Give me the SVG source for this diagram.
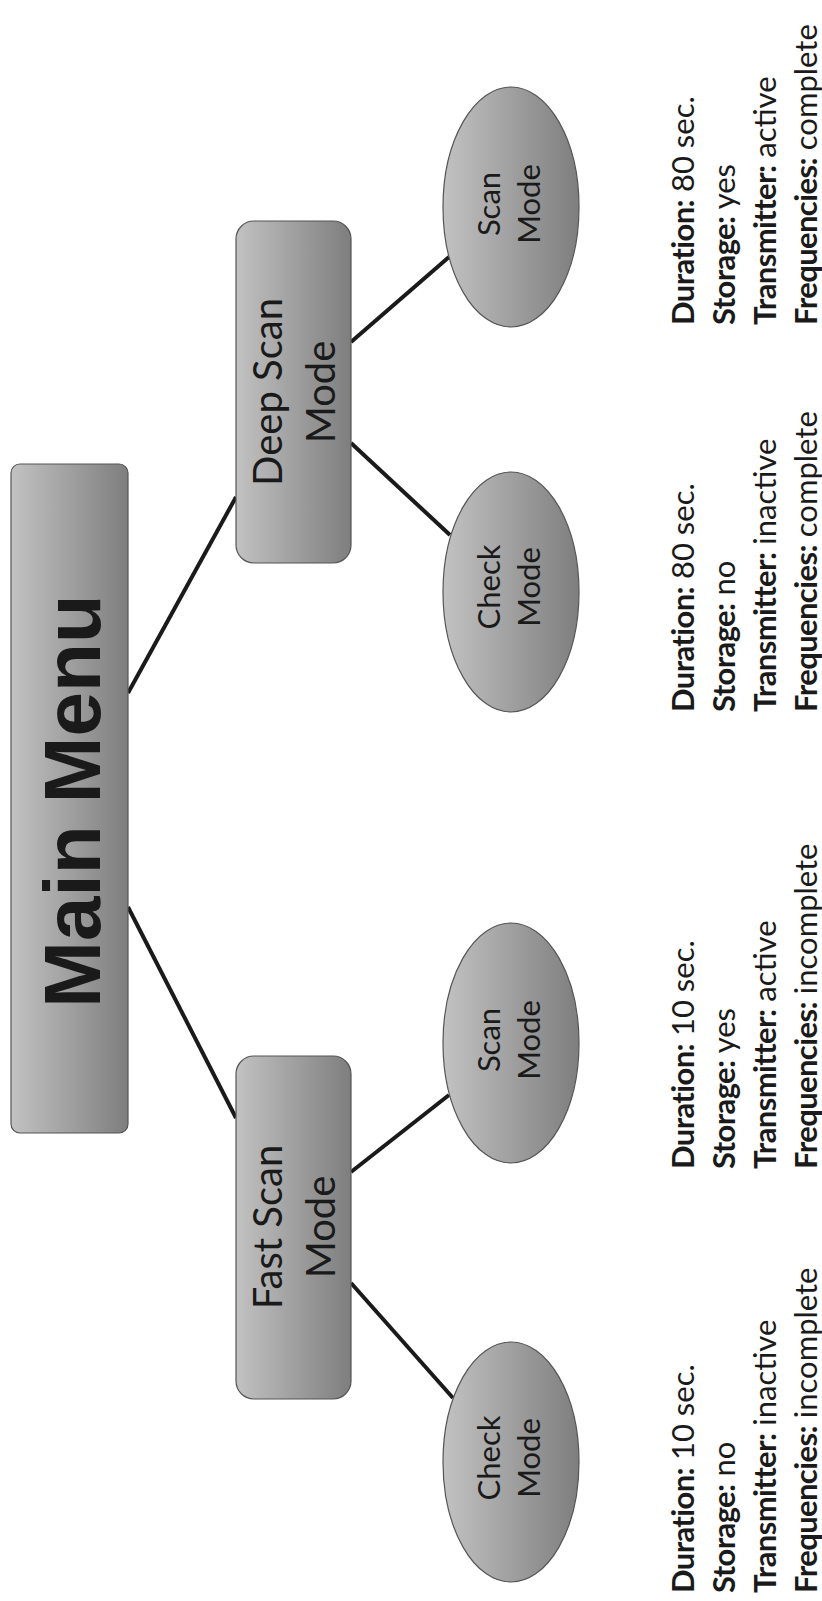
<svg xmlns="http://www.w3.org/2000/svg" width="822" height="1601" viewBox="0 0 822 1601">
<defs>
<linearGradient id="g" x1="0" y1="0" x2="1" y2="0">
<stop offset="0" stop-color="#c2c2c2"/>
<stop offset="1" stop-color="#7e7e7e"/>
</linearGradient>
<style>
.box{fill:url(#g);stroke:#555;stroke-width:1.2}
.lbl{font-family:Lato,"Open Sans",sans-serif;fill:#1a1a1a;text-anchor:middle}
.info{font-family:Lato,"Open Sans",sans-serif;font-size:31px;fill:#1a1a1a}
.info .b{font-weight:bold;letter-spacing:-0.6px}
.con line{stroke:#1a1a1a;stroke-width:4}
</style>
</defs>
<rect width="822" height="1601" fill="#fff"/>
<g class="con" id="connectors">
<line x1="128" y1="693" x2="236" y2="497"/>
<line x1="128" y1="907" x2="236" y2="1118"/>
<line x1="351" y1="342" x2="449" y2="257"/>
<line x1="351" y1="443" x2="450" y2="535"/>
<line x1="351" y1="1172" x2="449" y2="1095"/>
<line x1="351" y1="1283" x2="453" y2="1398"/>
</g>
<g id="main-menu">
<rect class="box" x="11" y="464" width="117" height="669" rx="9"/>
<text transform="translate(100,801) rotate(-90)" style="font-family:'Liberation Sans',Arial,sans-serif;font-weight:bold;font-size:80px;fill:#1a1a1a;text-anchor:middle">Main Menu</text>
</g>
<g id="deep-scan">
<rect class="box" x="236" y="221" width="115" height="342" rx="18"/>
<text class="lbl" font-size="40" transform="translate(0,392) rotate(-90)"><tspan x="0" y="282">Deep Scan</tspan><tspan x="0" y="335">Mode</tspan></text>
</g>
<g id="fast-scan">
<rect class="box" x="236" y="1056" width="115" height="343" rx="18"/>
<text class="lbl" font-size="40" transform="translate(0,1227) rotate(-90)"><tspan x="0" y="282">Fast Scan</tspan><tspan x="0" y="335">Mode</tspan></text>
</g>
<g id="deep-scan-mode">
<ellipse class="box" cx="511" cy="207" rx="68" ry="120"/>
<text class="lbl" font-size="31" transform="translate(0,204) rotate(-90)"><tspan x="0" y="500">Scan</tspan><tspan x="0" y="540">Mode</tspan></text>
</g>
<g id="deep-check-mode">
<ellipse class="box" cx="511" cy="592" rx="68" ry="120"/>
<text class="lbl" font-size="31" transform="translate(0,587) rotate(-90)"><tspan x="0" y="500">Check</tspan><tspan x="0" y="540">Mode</tspan></text>
</g>
<g id="fast-scan-mode">
<ellipse class="box" cx="511" cy="1043" rx="68" ry="120"/>
<text class="lbl" font-size="31" transform="translate(0,1040) rotate(-90)"><tspan x="0" y="500">Scan</tspan><tspan x="0" y="540">Mode</tspan></text>
</g>
<g id="fast-check-mode">
<ellipse class="box" cx="511" cy="1462" rx="68" ry="120"/>
<text class="lbl" font-size="31" transform="translate(0,1458) rotate(-90)"><tspan x="0" y="500">Check</tspan><tspan x="0" y="540">Mode</tspan></text>
</g>
<g id="info-fast-check">
<text class="info" transform="translate(0,1593) rotate(-90)"><tspan x="0" y="694"><tspan class="b">Duration:</tspan> 10 sec.</tspan><tspan x="0" y="735"><tspan class="b">Storage:</tspan> no</tspan><tspan x="0" y="776"><tspan class="b">Transmitter:</tspan> inactive</tspan><tspan x="0" y="817"><tspan class="b">Frequencies:</tspan> incomplete</tspan></text>
</g>
<g id="info-fast-scan">
<text class="info" transform="translate(0,1169) rotate(-90)"><tspan x="0" y="694"><tspan class="b">Duration:</tspan> 10 sec.</tspan><tspan x="0" y="735"><tspan class="b">Storage:</tspan> yes</tspan><tspan x="0" y="776"><tspan class="b">Transmitter:</tspan> active</tspan><tspan x="0" y="817"><tspan class="b">Frequencies:</tspan> incomplete</tspan></text>
</g>
<g id="info-deep-check">
<text class="info" transform="translate(0,712) rotate(-90)"><tspan x="0" y="694"><tspan class="b">Duration:</tspan> 80 sec.</tspan><tspan x="0" y="735"><tspan class="b">Storage:</tspan> no</tspan><tspan x="0" y="776"><tspan class="b">Transmitter:</tspan> inactive</tspan><tspan x="0" y="817"><tspan class="b">Frequencies:</tspan> complete</tspan></text>
</g>
<g id="info-deep-scan">
<text class="info" transform="translate(0,325) rotate(-90)"><tspan x="0" y="694"><tspan class="b">Duration:</tspan> 80 sec.</tspan><tspan x="0" y="735"><tspan class="b">Storage:</tspan> yes</tspan><tspan x="0" y="776"><tspan class="b">Transmitter:</tspan> active</tspan><tspan x="0" y="817"><tspan class="b">Frequencies:</tspan> complete</tspan></text>
</g>
</svg>
